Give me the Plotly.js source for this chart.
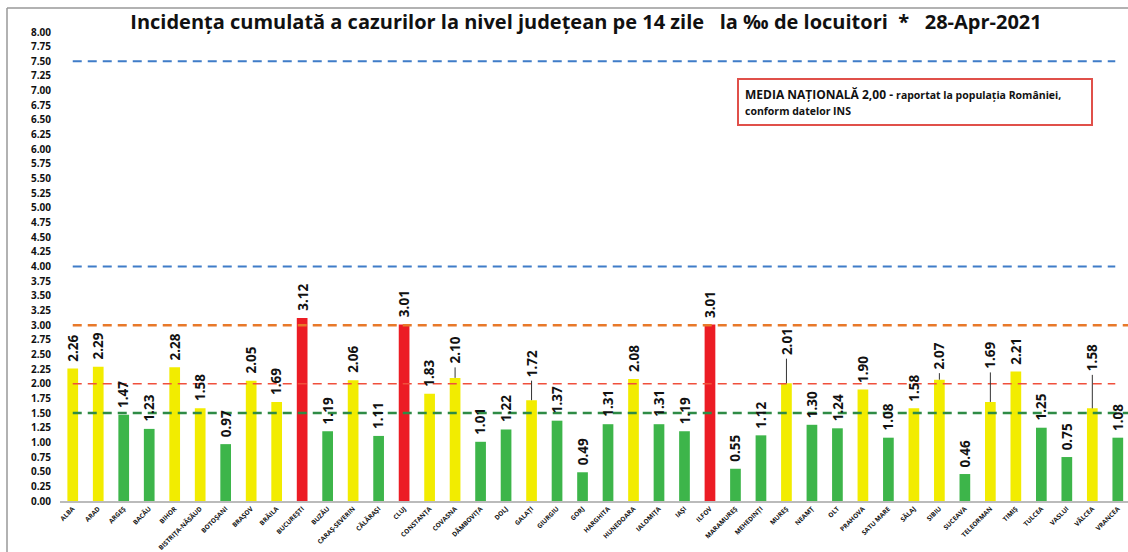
<!DOCTYPE html>
<html>
<head>
<meta charset="utf-8">
<script src="https://cdn.plot.ly/plotly-3.0.1.min.js"></script>
<style>html,body{margin:0;padding:0;background:#fff;}#chart{width:1128px;height:552px;}</style>
</head>
<body>
<div id="chart"></div>
<script>
const counties = ["ALBA","ARAD","ARGEȘ","BACĂU","BIHOR","BISTRIȚA-NĂSĂUD","BOTOȘANI","BRAȘOV","BRĂILA","BUCUREȘTI","BUZĂU","CARAȘ-SEVERIN","CĂLĂRAȘI","CLUJ","CONSTANȚA","COVASNA","DÂMBOVIȚA","DOLJ","GALAȚI","GIURGIU","GORJ","HARGHITA","HUNEDOARA","IALOMIȚA","IAȘI","ILFOV","MARAMUREȘ","MEHEDINȚI","MUREȘ","NEAMȚ","OLT","PRAHOVA","SATU MARE","SĂLAJ","SIBIU","SUCEAVA","TELEORMAN","TIMIȘ","TULCEA","VASLUI","VÂLCEA","VRANCEA"];
const incidence = [2.26,2.29,1.47,1.23,2.28,1.58,0.97,2.05,1.69,3.12,1.19,2.06,1.11,3.01,1.83,2.10,1.01,1.22,1.72,1.37,0.49,1.31,2.08,1.31,1.19,3.01,0.55,1.12,2.01,1.30,1.24,1.90,1.08,1.58,2.07,0.46,1.69,2.21,1.25,0.75,1.58,1.08];
const thresholdValues = [7.5, 4.0, 3.0, 2.0, 1.5];
const nationalMean = "2,00";
const titleText = "Incidența cumulată a cazurilor la nivel județean pe 14 zile   la ‰ de locuitori  *   28-Apr-2021";

// style helpers
const leaderOffsets = {"COVASNA":12,"GALAȚI":21,"MUREȘ":26,"SIBIU":8,"TELEORMAN":31,"VÂLCEA":35};
function barColor(v){ if(v>3.0) return "#ec1c24"; if(v>=1.5) return "#f2ec00"; return "#3db54a"; }
const lineStyles = [
  {color:"#3f7cc8", width:2, x1:40.9},
  {color:"#3f7cc8", width:2, x1:40.9},
  {color:"#e8792a", width:2.5, x1:41.5},
  {color:"#f0503c", width:1.5, x1:40.9},
  {color:"#2e8b45", width:2.5, x1:41.5}
];

const FONT = "Open Sans, Liberation Sans, sans-serif";

const trace = {
  type:"bar",
  x:counties,
  y:incidence,
  width:0.42,
  marker:{color:incidence.map(barColor)},
  hoverinfo:"x+y"
};

const annotations = [];
counties.forEach((c,i)=>{
  const v = incidence[i];
  const off = leaderOffsets[c];
  annotations.push({
    x:c, y:v, xref:"x", yref:"y",
    text:"<b>"+v.toFixed(2)+"</b>",
    textangle:-90, showarrow:false,
    xanchor:"center", yanchor:"bottom",
    yshift: off ? off : 5,
    font:{family:FONT, size:13.5, color:"#111"}
  });
  if(off){
    annotations.push({
      x:c, y:v, xref:"x", yref:"y", text:"",
      showarrow:true, arrowhead:0, arrowwidth:1, arrowcolor:"#333",
      ax:0, ay:-off
    });
  }
});
annotations.push({
  xref:"paper", yref:"paper",
  x:(737-60)/1068, y:(501-78)/469, xanchor:"left", yanchor:"top",
  align:"left", showarrow:false,
  bordercolor:"#e0504a", borderwidth:2, borderpad:6, bgcolor:"#fff",
  text:"<b>MEDIA NAȚIONALĂ "+nationalMean+" - <span style='font-size:10.5px'>raportat la populația României,</span><br><span style='font-size:10.5px'>conform datelor INS</span></b>",
  font:{family:FONT, size:12, color:"#111"},
  width:340
});

const shapes = thresholdValues.map((v,k)=>({
  type:"line", xref:"x", yref:"y", x0:0, x1:lineStyles[k].x1, y0:v, y1:v,
  layer:"above",
  line:{color:lineStyles[k].color, width:lineStyles[k].width, dash:"9px,6px"}
}));
// outer frame: top and left edges only
const fx0 = (7-60)/1068, fy1 = (501-8)/469;
shapes.push({type:"line", xref:"paper", yref:"paper", x0:fx0, x1:(1128-60)/1068, y0:fy1, y1:fy1, layer:"below", line:{color:"#999", width:1.5}});
shapes.push({type:"line", xref:"paper", yref:"paper", x0:fx0, x1:fx0, y0:fy1, y1:-(552-501)/469, layer:"below", line:{color:"#999", width:1.5}});

const layout = {
  width:1128, height:552,
  margin:{l:60, r:0, t:32, b:51},
  paper_bgcolor:"#fff", plot_bgcolor:"#fff",
  showlegend:false,
  title:{
    text:"<b>"+titleText+"</b>",
    xref:"paper", x:(586-60)/1068, xanchor:"center",
    yref:"container", y:1-22/552, yanchor:"middle",
    font:{family:FONT, size:20, color:"#111"}
  },
  xaxis:{
    type:"category",
    range:[-0.5, 41.4],
    tickangle:-45,
    tickfont:{family:FONT, size:6.5, color:"#111", weight:"bold"},
    showline:true, linecolor:"#bbb", linewidth:1.5,
    showgrid:false, zeroline:false, ticks:""
  },
  yaxis:{
    range:[0,8], dtick:0.25, tick0:0, tickformat:".2f",
    tickfont:{family:FONT, size:10, color:"#111", weight:"bold"},
    showgrid:false, zeroline:false, showline:false, ticks:"",
    ticklabelstandoff:8
  },
  shapes:shapes,
  annotations:annotations
};

Plotly.newPlot("chart",[trace],layout,{displayModeBar:false, staticPlot:true});
</script>
</body>
</html>
